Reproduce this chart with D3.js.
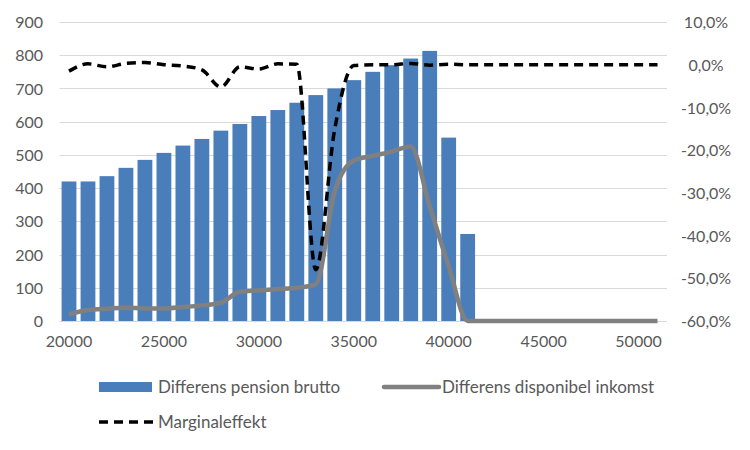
<!DOCTYPE html>
<html>
<head>
<meta charset="utf-8">
<script src="https://cdn.jsdelivr.net/npm/d3@7"></script>
<style>
  html, body { margin: 0; padding: 0; background: #fff; }
  svg { display: block; }
  text { font-family: Lato, "Open Sans", sans-serif; fill: #595959; }
</style>
</head>
<body>
<svg id="chart" width="750" height="450"></svg>
<script>
const categories = [20000, 21000, 22000, 23000, 24000, 25000, 26000, 27000, 28000, 29000,
  30000, 31000, 32000, 33000, 34000, 35000, 36000, 37000, 38000, 39000, 40000, 41000,
  42000, 43000, 44000, 45000, 46000, 47000, 48000, 49000, 50000, 51000];
const pensionBrutto = [420, 420, 436, 461, 485, 506, 528, 548, 573, 593, 617, 635, 657,
  680, 700, 725, 750, 770, 790, 813, 552, 262];
const disponibelInkomst = [20, 33, 37, 40, 38, 38, 42, 47, 55, 88, 92, 96, 100, 110, 390,
  483, 497, 510, 525, 345, 165, 0, 0, 0, 0, 0, 0, 0, 0, 0, 0, 0];
const marginaleffekt = [-0.015, 0.002, -0.005, 0.003, 0.005, 0.0, -0.003, -0.012, -0.052,
  -0.005, -0.01, 0.002, 0.001, -0.48, -0.15, -0.002, 0.0, 0.0, 0.003, -0.001, 0.001, 0.0,
  0, 0, 0, 0, 0, 0, 0, 0, 0, 0];
const xTickLabels = [20000, 25000, 30000, 35000, 40000, 45000, 50000];
const leftTicks = [0, 100, 200, 300, 400, 500, 600, 700, 800, 900];
const rightTicks = [-0.6, -0.5, -0.4, -0.3, -0.2, -0.1, 0.0, 0.1];
const seriesNames = ["Differens pension brutto", "Differens disponibel inkomst", "Marginaleffekt"];

const svg = d3.select("#chart");
const plotLeft = 59.5, plotRight = 667, plotTop = 22, plotBottom = 321;

const x = d3.scaleBand().domain(categories).range([plotLeft, plotRight])
  .paddingInner(0.22).paddingOuter(0.11);
const yL = d3.scaleLinear().domain([0, 900]).range([plotBottom, plotTop]);
const yR = d3.scaleLinear().domain([-0.6, 0.1]).range([plotBottom, plotTop]);
const cx = c => x(c) + x.bandwidth() / 2;

// gridlines
svg.append("g").selectAll("line").data(leftTicks).join("line")
  .attr("x1", plotLeft).attr("x2", plotRight)
  .attr("y1", d => Math.round(yL(d)) + 0.5).attr("y2", d => Math.round(yL(d)) + 0.5)
  .attr("stroke", "#d9d9d9").attr("stroke-width", 1);

const fmtPct = v => (v * 100).toFixed(1).replace(".", ",").replace("-0,0", "0,0") + "%";
const axL = d3.axisLeft(yL).tickValues(leftTicks).tickSize(0).tickPadding(0);
const gL = svg.append("g").attr("transform", "translate(43,0)").call(axL);
gL.select(".domain").remove();
gL.selectAll("text").style("font-size", "16px").attr("dy", "0.35em").attr("fill", "#595959");

const axR = d3.axisRight(yR).tickValues(rightTicks).tickFormat(fmtPct).tickSize(0).tickPadding(0);
const gR = svg.append("g").attr("transform", "translate(706,0)").call(axR);
gR.select(".domain").remove();
gR.selectAll("text").style("font-size", "16px").attr("text-anchor", "middle")
  .attr("dy", "0.35em").attr("fill", "#595959");

const axB = d3.axisBottom(x).tickValues(xTickLabels).tickSize(0).tickPadding(0);
const gB = svg.append("g").attr("transform", `translate(0,${plotBottom + 20})`).call(axB);
gB.select(".domain").remove();
gB.selectAll("text").style("font-size", "16px").attr("dy", "0.35em").attr("fill", "#595959");

// bars
svg.append("g").selectAll("rect").data(pensionBrutto).join("rect")
  .attr("x", (d, i) => x(categories[i]))
  .attr("width", x.bandwidth())
  .attr("y", d => yL(d))
  .attr("height", d => yL(0) - yL(d))
  .attr("fill", "#4a7ebb");

// gray line
const lineL = d3.line().x((d, i) => cx(categories[i])).y(d => yL(d)).curve(d3.curveMonotoneX);
svg.append("path").datum(disponibelInkomst).attr("d", lineL)
  .attr("fill", "none").attr("stroke", "#808080").attr("stroke-width", 4.5)
  .attr("stroke-linejoin", "round");

// dashed line
const lineR = d3.line().x((d, i) => cx(categories[i])).y(d => yR(d)).curve(d3.curveMonotoneX);
svg.append("path").datum(marginaleffekt).attr("d", lineR)
  .attr("fill", "none").attr("stroke", "#000").attr("stroke-width", 3.5)
  .attr("stroke-dasharray", "9,6");

// legend
const lg = svg.append("g");
lg.append("rect").attr("x", 99).attr("y", 382).attr("width", 53).attr("height", 10).attr("fill", "#4a7ebb");
lg.append("text").attr("x", 158).attr("y", 387).attr("dy", "0.35em").style("font-size", "17px").text(seriesNames[0]);
lg.append("line").attr("x1", 384).attr("x2", 439).attr("y1", 387).attr("y2", 387)
  .attr("stroke", "#808080").attr("stroke-width", 4.5).attr("stroke-linecap", "round");
lg.append("text").attr("x", 442).attr("y", 387).attr("dy", "0.35em").style("font-size", "17px").text(seriesNames[1]);
lg.append("line").attr("x1", 99).attr("x2", 154).attr("y1", 422).attr("y2", 422)
  .attr("stroke", "#000").attr("stroke-width", 3.5).attr("stroke-dasharray", "9,6");
lg.append("text").attr("x", 158).attr("y", 422).attr("dy", "0.35em").style("font-size", "17px").text(seriesNames[2]);
</script>
</body>
</html>
